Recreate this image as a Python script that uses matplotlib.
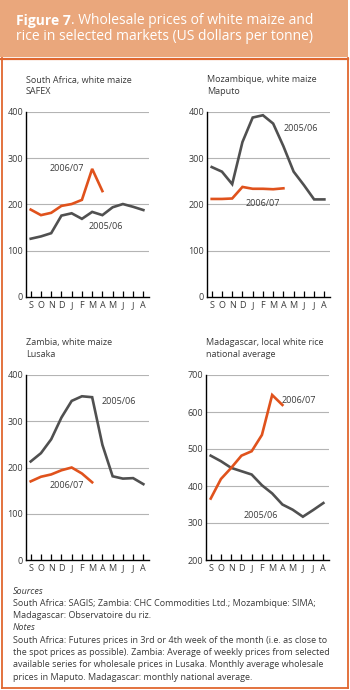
import matplotlib
matplotlib.use("Agg")
import matplotlib.pyplot as plt
from matplotlib.patches import Rectangle
from matplotlib.lines import Line2D

plt.rcParams["font.family"] = ["Open Sans", "DejaVu Sans"]

# data
months = ["S", "O", "N", "D", "J", "F", "M", "A", "M", "J", "J", "A"]

sa_0506 = [126, 131, 138, 176, 181, 169, 184, 177, 194, 201, 195, 188]
sa_0607 = [189, 177, 182, 197, 201, 210, 277, 229]

moz_0506 = [281, 271, 244, 335, 388, 393, 375, 326, 271, 242, 211, 211]
moz_0607 = [212, 212, 213, 238, 234, 234, 233, 235]

zam_0506 = [213, 231, 261, 308, 344, 354, 352, 249, 181, 176, 177, 164]
zam_0607 = [170, 180, 185, 194, 200, 187, 168]

mad_0506 = [482, 467, 449, 440, 431, 402, 380, 350, 336, 317, 335, 354]
mad_0607 = [366, 419, 449, 482, 494, 538, 646, 619]

W, H = 350, 690
GRAY = "#505050"
ORANGE = "#e0521c"
BORDER = "#e0672f"
HEADER = "#eaa77c"
TEXT = "#3a3a3a"
FS = 6.5


def frac(x, y):
    # pixel (top-left origin) to figure fraction
    return x / W, 1 - y / H


fig = plt.figure(figsize=(W / 100, H / 100), dpi=100)

# header band and frame
fig.patches.append(Rectangle((0, 1 - 57 / H), 348 / W, 57 / H, transform=fig.transFigure,
                             facecolor=HEADER, edgecolor="none", zorder=0))
fig.lines.append(Line2D([0, 348 / W], [1 - 58.5 / H] * 2, transform=fig.transFigure,
                        color=BORDER, lw=1.6))
fig.lines.append(Line2D([1.5 / W, 1.5 / W], [1 - 58 / H, 1 - 688 / H], transform=fig.transFigure,
                        color=BORDER, lw=1.3))
fig.lines.append(Line2D([347.5 / W, 347.5 / W], [1 - 58 / H, 1 - 688 / H], transform=fig.transFigure,
                        color=BORDER, lw=1.3))
fig.lines.append(Line2D([1.5 / W, 347.5 / W], [1 - 688 / H] * 2, transform=fig.transFigure,
                        color=BORDER, lw=1.3))

# header title
t1 = fig.text(*frac(16, 21), "Figure 7", color="white", fontsize=10, fontweight="bold",
              va="center", ha="left")
fig.canvas.draw()
bb = t1.get_window_extent()
fig.text(bb.x1 / W, 1 - 21 / H, ". Wholesale prices of white maize and", color="white",
         fontsize=10, va="center", ha="left")
fig.text(*frac(16, 36), "rice in selected markets (US dollars per tonne)", color="white",
         fontsize=10, va="center", ha="left")

panels = [
    # left, top, title, series 05/06, series 06/07, ylim, yticks, label positions
    (26, 112, ["South Africa, white maize", "SAFEX"], sa_0506, sa_0607,
     (0, 400), [0, 100, 200, 300, 400], (5.65, 153), (1.85, 278)),
    (207, 112, ["Mozambique, white maize", "Maputo"], moz_0506, moz_0607,
     (0, 400), [0, 100, 200, 300, 400], (7.0, 365), (3.35, 203)),
    (26, 375, ["Zambia, white maize", "Lusaka"], zam_0506, zam_0607,
     (0, 400), [0, 100, 200, 300, 400], (6.9, 343), (1.8, 162)),
    (206, 375, ["Madagascar, local white rice", "national average"], mad_0506, mad_0607,
     (200, 700), [200, 300, 400, 500, 600, 700], (3.2, 320), (6.95, 630)),
]

x = list(range(len(months)))

for left, top, title, s1, s2, ylim, yticks, lab1, lab2 in panels:
    l, t = frac(left, top)
    ax = fig.add_axes([l, t - 185 / H, 123 / W, 185 / H])
    ax.set_xlim(-0.46, 11.55)
    ax.set_ylim(*ylim)
    ax.set_yticks(yticks)
    ax.set_xticks(x)
    ax.set_xticklabels(months)
    for yv in yticks[1:]:
        ax.axhline(yv, color="#b4b4b4", lw=0.8, zorder=0)
    ax.plot(x, s1, color=GRAY, lw=1.9, solid_joinstyle="miter", zorder=3)
    ax.plot(x[:len(s2)], s2, color=ORANGE, lw=1.9, solid_joinstyle="miter", zorder=4)
    ax.text(*lab1, "2005/06", fontsize=FS, color=TEXT, va="center", ha="left")
    ax.text(*lab2, "2006/07", fontsize=FS, color=TEXT, va="center", ha="left")
    for side in ["top", "right"]:
        ax.spines[side].set_visible(False)
    for side in ["left", "bottom"]:
        ax.spines[side].set_color("black")
        ax.spines[side].set_linewidth(1.0)
    ax.tick_params(axis="x", direction="in", length=4, width=0.9, color="black",
                   labelsize=FS, labelcolor=TEXT, pad=3)
    ax.tick_params(axis="y", length=0, labelsize=FS, labelcolor=TEXT, pad=2)
    ax.patch.set_alpha(0)
    fig.text(*frac(left, top - 32), title[0], fontsize=FS, color=TEXT, va="center", ha="left")
    fig.text(*frac(left, top - 20), title[1], fontsize=FS, color=TEXT, va="center", ha="left")

# footer
footer = [
    ("Sources", True),
    ("South Africa: SAGIS; Zambia: CHC Commodities Ltd.; Mozambique: SIMA;", False),
    ("Madagascar: Observatoire du riz.", False),
    ("Notes", True),
    ("South Africa: Futures prices in 3rd or 4th week of the month (i.e. as close to", False),
    ("the spot prices as possible). Zambia: Average of weekly prices from selected", False),
    ("available series for wholesale prices in Lusaka. Monthly average wholesale", False),
    ("prices in Maputo. Madagascar: monthly national average.", False),
]
for i, (line, ital) in enumerate(footer):
    fig.text(*frac(13, 591 + i * 12.3), line, fontsize=FS, color=TEXT, va="center",
             ha="left", style="italic" if ital else "normal")

fig.savefig("out.png", dpi=100)
